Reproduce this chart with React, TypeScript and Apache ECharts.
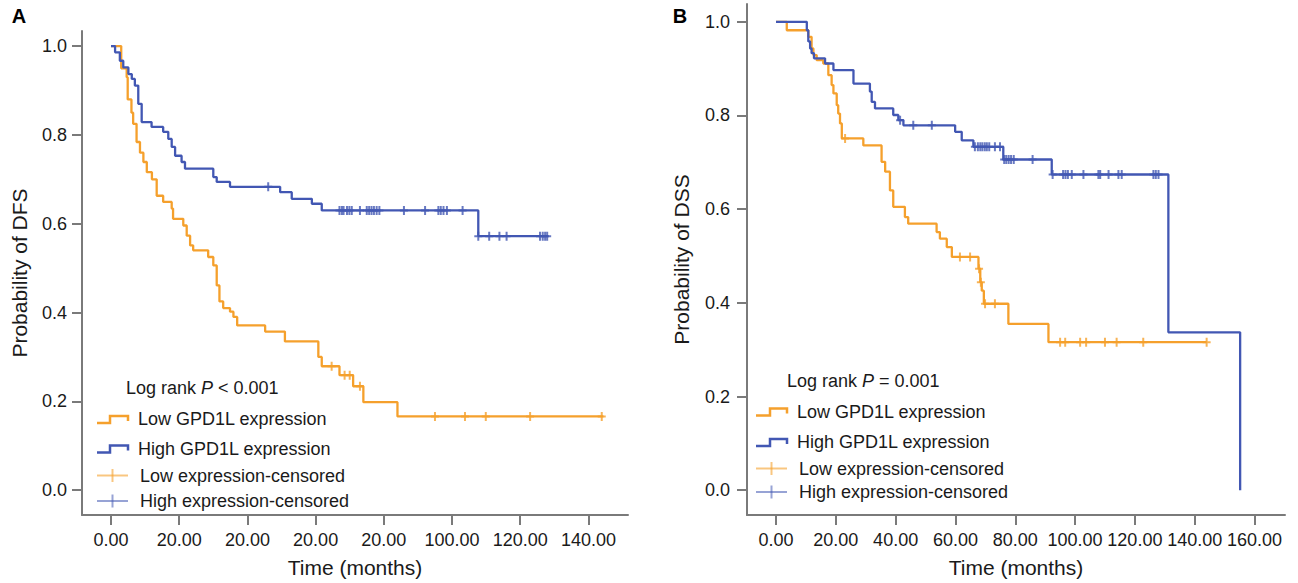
import React, { useEffect, useRef } from "react";
import * as echarts from "echarts";

const ORANGE = "#F5A02C";
const BLUE = "#4257B3";
const ORANGE_LIGHT = "rgba(245,160,44,0.6)";
const BLUE_LIGHT = "rgba(66,87,179,0.55)";
const AXIS_GRAY = "#7a7a7a";
const TEXT = "#1a1a1a";
const FONT = "'Liberation Sans', Arial, Helvetica, sans-serif";

// ---------- shared y ticks ----------
const yTicks = [0, 0.2, 0.4, 0.6, 0.8, 1.0];

// ---------- Panel A: DFS ----------
const dfsXTicks = [0, 20, 40, 60, 80, 100, 120, 140];
const dfsXTickLabels = ["0.00", "20.00", "20.00", "20.00", "20.00", "100.00", "120.00", "140.00"];

const dfsLowSteps: [number, number][] = [
  [0, 1], [3.0, 0.95], [4.6, 0.93], [4.9, 0.88], [6.0, 0.85], [6.5, 0.825], [7.5, 0.784],
  [8.5, 0.76], [9.5, 0.739], [10.5, 0.716], [12.0, 0.7], [13.4, 0.663], [15.3, 0.649],
  [17.8, 0.634], [18.2, 0.611], [21.2, 0.596], [22.2, 0.573], [23.2, 0.551], [24.1, 0.54],
  [28.5, 0.525], [30.0, 0.506], [31.0, 0.461], [31.8, 0.425], [32.9, 0.41], [34.9, 0.402],
  [35.9, 0.39], [37.0, 0.371], [45.2, 0.357], [51.0, 0.335], [60.8, 0.3], [61.8, 0.279],
  [67.0, 0.259], [71.0, 0.234], [74.0, 0.198], [84.0, 0.166], [144.4, 0.166],
];
const dfsLowCensored: [number, number][] = [
  [64.7, 0.279], [68.5, 0.259], [70.0, 0.259], [73.0, 0.234], [95.0, 0.166],
  [103.8, 0.166], [109.9, 0.166], [122.9, 0.166], [143.9, 0.166],
];
const dfsHighSteps: [number, number][] = [
  [0, 1], [1.2, 0.986], [2.6, 0.967], [3.6, 0.952], [5.1, 0.937], [6.1, 0.926], [7.0, 0.911],
  [8.0, 0.87], [9.0, 0.829], [11.9, 0.818], [15.3, 0.807], [16.8, 0.791], [17.8, 0.773],
  [18.8, 0.753], [20.7, 0.739], [21.7, 0.724], [30.0, 0.705], [31.0, 0.694], [34.9, 0.683],
  [49.6, 0.671], [53.0, 0.656], [58.9, 0.645], [61.8, 0.63], [107.7, 0.572], [128.2, 0.572],
];
const dfsHighCensored: [number, number][] = [
  [46.1, 0.683],
  [67.0, 0.63], [67.7, 0.63], [68.2, 0.63], [69.2, 0.63], [69.9, 0.63], [70.6, 0.63],
  [73.0, 0.63], [75.0, 0.63], [75.7, 0.63], [76.4, 0.63], [77.1, 0.63], [77.9, 0.63],
  [78.7, 0.63], [85.9, 0.63], [92.1, 0.63], [96.0, 0.63], [96.7, 0.63], [97.5, 0.63],
  [98.5, 0.63], [103.1, 0.63],
  [107.7, 0.572], [110.9, 0.572], [113.9, 0.572], [116.0, 0.572], [125.8, 0.572],
  [126.6, 0.572], [127.3, 0.572], [127.9, 0.572],
];

// ---------- Panel B: DSS ----------
const dssXTicks = [0, 20, 40, 60, 80, 100, 120, 140, 160];
const dssXTickLabels = ["0.00", "20.00", "40.00", "60.00", "80.00", "100.00", "120.00", "140.00", "160.00"];

const dssLowSteps: [number, number][] = [
  [0, 1], [3.6, 0.982], [10.8, 0.968], [11.9, 0.943], [12.5, 0.929], [13.6, 0.918],
  [15.8, 0.911], [17.5, 0.886], [18.6, 0.865], [19.2, 0.847], [20.3, 0.822], [20.8, 0.804],
  [21.4, 0.783], [22.0, 0.751], [29.2, 0.736], [35.3, 0.701], [36.5, 0.68], [38.1, 0.64],
  [39.2, 0.605], [43.1, 0.583], [44.2, 0.569], [53.7, 0.551], [54.8, 0.537], [57.1, 0.519],
  [58.8, 0.498], [67.7, 0.473], [68.3, 0.444], [68.8, 0.426], [69.5, 0.398], [77.7, 0.355],
  [91.1, 0.316], [144.0, 0.316],
];
const dssLowCensored: [number, number][] = [
  [23.1, 0.751], [61.5, 0.498], [64.9, 0.498], [67.9, 0.473], [68.5, 0.444], [69.9, 0.398],
  [73.2, 0.398], [95.0, 0.316], [96.7, 0.316], [101.7, 0.316], [103.7, 0.316], [110.0, 0.316],
  [113.9, 0.316], [122.8, 0.316], [144.0, 0.316],
];
const dssHighSteps: [number, number][] = [
  [0, 1], [10.3, 0.982], [10.8, 0.958], [11.4, 0.943], [11.9, 0.933], [12.7, 0.922],
  [16.4, 0.911], [19.2, 0.897], [25.9, 0.868], [31.4, 0.851], [32.0, 0.829], [33.1, 0.815],
  [39.2, 0.801], [40.9, 0.79], [42.6, 0.779], [59.9, 0.765], [62.1, 0.747], [66.0, 0.733],
  [76.0, 0.706], [92.2, 0.674], [131.2, 0.337], [155.2, 0.0],
];
const dssHighCensored: [number, number][] = [
  [41.5, 0.79], [45.9, 0.779], [52.1, 0.779],
  [66.5, 0.733], [67.5, 0.733], [68.3, 0.733], [69.0, 0.733], [69.8, 0.733], [70.5, 0.733],
  [71.3, 0.733], [73.2, 0.733], [74.9, 0.733],
  [76.3, 0.706], [77.0, 0.706], [77.8, 0.706], [78.6, 0.706], [79.5, 0.706], [85.8, 0.706],
  [92.5, 0.674], [96.0, 0.674], [96.8, 0.674], [97.6, 0.674], [98.9, 0.674], [102.8, 0.674],
  [107.8, 0.674], [108.4, 0.674], [111.2, 0.674], [114.5, 0.674], [115.6, 0.674],
  [126.2, 0.674], [127.0, 0.674], [127.9, 0.674],
];

const legendNames = [
  "Low GPD1L expression",
  "High GPD1L expression",
  "Low expression-censored",
  "High expression-censored",
];

const CENSOR_SYMBOL = "path://M3,0H5V3.5H8V5.5H5V9H3V5.5H0V3.5H3Z";

function makeXAxis(gridIndex: number, min: number, max: number, ticks: number[], labels: string[]) {
  return {
    type: "value",
    gridIndex,
    min,
    max,
    name: "Time (months)",
    nameLocation: "middle",
    nameGap: 42,
    nameTextStyle: { fontSize: 21, color: TEXT, fontFamily: FONT },
    axisLine: { show: true, onZero: false, lineStyle: { color: AXIS_GRAY, width: 2 } },
    axisTick: { show: true, inside: false, length: 10, customValues: ticks, lineStyle: { color: AXIS_GRAY, width: 2 } },
    axisLabel: {
      show: true,
      customValues: ticks,
      margin: 16,
      fontSize: 18,
      color: TEXT,
      fontFamily: FONT,
      formatter: (v: number) => {
        const i = ticks.findIndex((t) => Math.abs(t - v) < 1e-6);
        return i >= 0 ? labels[i] : "";
      },
    },
    splitLine: { show: false },
  };
}

function makeYAxis(gridIndex: number, min: number, max: number, name: string, nameGap: number, margin: number) {
  return {
    type: "value",
    gridIndex,
    min,
    max,
    name,
    nameLocation: "middle",
    nameGap,
    nameTextStyle: { fontSize: 21, color: TEXT, fontFamily: FONT },
    axisLine: { show: true, onZero: false, lineStyle: { color: AXIS_GRAY, width: 2 } },
    axisTick: { show: true, inside: false, length: 10, customValues: yTicks, lineStyle: { color: AXIS_GRAY, width: 2 } },
    axisLabel: {
      show: true,
      customValues: yTicks,
      margin,
      fontSize: 18,
      color: TEXT,
      fontFamily: FONT,
      formatter: (v: number) => v.toFixed(1),
    },
    splitLine: { show: false },
  };
}

function makeSeries(axisIndex: number, low: [number, number][], high: [number, number][], lowC: [number, number][], highC: [number, number][]) {
  const common = { xAxisIndex: axisIndex, yAxisIndex: axisIndex };
  return [
    { ...common, name: legendNames[0], type: "line", step: "end", data: low, showSymbol: false, symbol: "none", lineStyle: { color: ORANGE, width: 2.3 }, itemStyle: { color: ORANGE }, z: 2 },
    { ...common, name: legendNames[2], type: "scatter", data: lowC, symbol: CENSOR_SYMBOL, symbolSize: [8, 9], itemStyle: { color: ORANGE }, z: 3 },
    { ...common, name: legendNames[1], type: "line", step: "end", data: high, showSymbol: false, symbol: "none", lineStyle: { color: BLUE, width: 2.3 }, itemStyle: { color: BLUE }, z: 4 },
    { ...common, name: legendNames[3], type: "scatter", data: highC, symbol: CENSOR_SYMBOL, symbolSize: [8, 9], itemStyle: { color: BLUE }, z: 5 },
  ];
}

function legendGraphics(
  textX: number,
  censTextX: number,
  titleX: number,
  titleY: number,
  pText: string,
  rows: number[],
  iconX0: number,
  iconX1: number,
  iconMid: number
) {
  const els: any[] = [];
  els.push({
    type: "text",
    x: titleX,
    y: titleY,
    style: {
      text: `{a|Log rank }{i|P}{a|${pText}}`,
      verticalAlign: "middle",
      rich: {
        a: { fontSize: 18, fontFamily: FONT, fill: TEXT },
        i: { fontSize: 18, fontFamily: FONT, fontStyle: "italic", fill: TEXT },
      },
    },
  });
  const colors = [ORANGE, BLUE];
  for (let k = 0; k < 2; k++) {
    const yc = rows[k];
    els.push({
      type: "polyline",
      shape: {
        points: [
          [iconX0, yc + 4],
          [iconMid, yc + 4],
          [iconMid, yc - 3],
          [iconX1, yc - 3],
          [iconX1, yc + 2],
        ],
      },
      style: { stroke: colors[k], lineWidth: 2.5, fill: "none" },
    });
    els.push({
      type: "text",
      x: textX,
      y: yc,
      style: { text: legendNames[k], fontSize: 18, fontFamily: FONT, fill: TEXT, verticalAlign: "middle" },
    });
  }
  const light = [ORANGE_LIGHT, BLUE_LIGHT];
  for (let k = 0; k < 2; k++) {
    const yc = rows[k + 2];
    els.push({
      type: "line",
      shape: { x1: iconX0, y1: yc, x2: iconX1, y2: yc },
      style: { stroke: light[k], lineWidth: 2 },
    });
    els.push({
      type: "line",
      shape: { x1: (iconX0 + iconX1) / 2, y1: yc - 6.5, x2: (iconX0 + iconX1) / 2, y2: yc + 6.5 },
      style: { stroke: light[k], lineWidth: 2 },
    });
    els.push({
      type: "text",
      x: censTextX,
      y: yc,
      style: { text: legendNames[k + 2], fontSize: 18, fontFamily: FONT, fill: TEXT, verticalAlign: "middle" },
    });
  }
  return els;
}

export default function App() {
  const ref = useRef<HTMLDivElement>(null);

  useEffect(() => {
    document.body.style.margin = "0";
    if (!ref.current) return;
    const chart = echarts.init(ref.current, null, { renderer: "svg" });

    const graphics = [
      { type: "text", x: 19, y: 16, style: { text: "A", fontSize: 20, fontWeight: "bold", fontFamily: FONT, fill: "#000", align: "center", verticalAlign: "middle" } },
      { type: "text", x: 680, y: 16, style: { text: "B", fontSize: 20, fontWeight: "bold", fontFamily: FONT, fill: "#000", align: "center", verticalAlign: "middle" } },
      ...legendGraphics(138, 140, 126, 388, " < 0.001", [419, 448.5, 475.5, 501], 97, 128, 110),
      ...legendGraphics(797, 799, 787, 381, " = 0.001", [411.5, 442, 468.5, 492], 756, 787, 770),
    ];

    const option: any = {
      animation: false,
      backgroundColor: "#ffffff",
      grid: [
        { left: 82, top: 31, width: 546, height: 486 },
        { left: 747, top: 4, width: 538, height: 512 },
      ],
      xAxis: [
        makeXAxis(0, -8.5, 151.6, dfsXTicks, dfsXTickLabels),
        makeXAxis(1, -9.7, 170.2, dssXTicks, dssXTickLabels),
      ],
      yAxis: [
        makeYAxis(0, -0.056, 1.034, "Probability of DFS", 52, 15),
        makeYAxis(1, -0.053, 1.038, "Probability of DSS", 55, 17),
      ],
      series: [
        ...makeSeries(0, dfsLowSteps, dfsHighSteps, dfsLowCensored, dfsHighCensored),
        ...makeSeries(1, dssLowSteps, dssHighSteps, dssLowCensored, dssHighCensored),
      ],
      graphic: graphics,
    };
    chart.setOption(option);
    return () => {
      chart.dispose();
    };
  }, []);

  return <div ref={ref} style={{ width: 1298, height: 583 }} />;
}
